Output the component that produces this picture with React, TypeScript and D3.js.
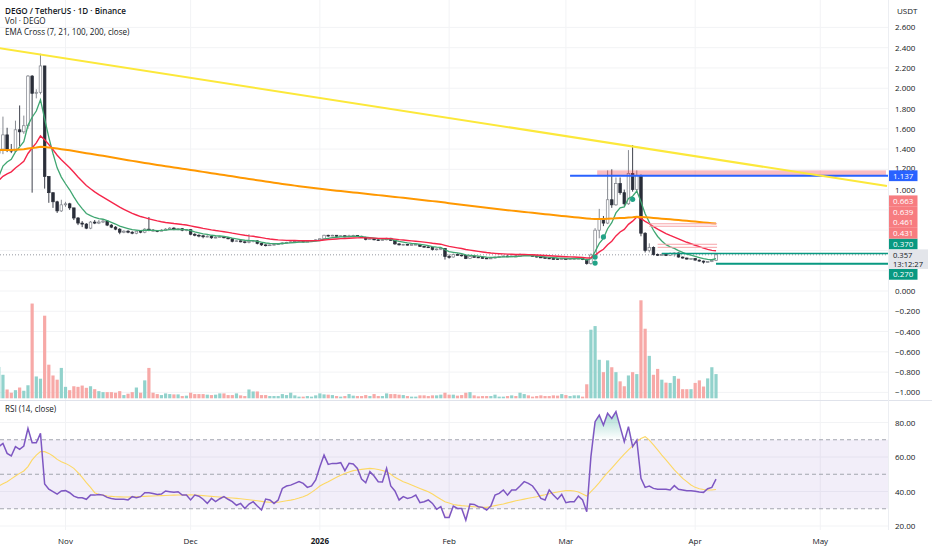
import React, { useRef, useEffect } from "react";
import * as d3 from "d3";

// daily candles, Oct 16 2025 .. Apr 6 2026 (open = previous close)
const startDay = Date.UTC(2025, 9, 16);
const firstOpen = 1.36;

const closes = [
	1.40, 1.54, 1.39, 1.38, 1.59, 1.57, 1.63, 2.12, 1.95, 1.96,
	2.22, 1.13, 0.97, 0.88, 0.79, 0.85, 0.86, 0.82, 0.72, 0.67,
	0.66, 0.62, 0.68, 0.67, 0.68, 0.69, 0.65, 0.63, 0.61, 0.58,
	0.59, 0.58, 0.57, 0.59, 0.58, 0.61, 0.60, 0.595, 0.59, 0.60,
	0.61, 0.62, 0.61, 0.615, 0.60, 0.605, 0.56, 0.55, 0.545, 0.535,
	0.54, 0.525, 0.53, 0.535, 0.525, 0.515, 0.49, 0.495, 0.485, 0.48,
	0.49, 0.495, 0.47, 0.455, 0.45, 0.455, 0.46, 0.465, 0.475, 0.48,
	0.485, 0.49, 0.492, 0.488, 0.49, 0.495, 0.505, 0.515, 0.55, 0.545,
	0.55, 0.54, 0.545, 0.535, 0.545, 0.548, 0.54, 0.53, 0.51, 0.515,
	0.505, 0.50, 0.505, 0.52, 0.50, 0.465, 0.455, 0.46, 0.455, 0.458,
	0.46, 0.44, 0.435, 0.43, 0.41, 0.415, 0.42, 0.34, 0.335, 0.36,
	0.355, 0.35, 0.32, 0.34, 0.335, 0.33, 0.325, 0.32, 0.325, 0.335,
	0.34, 0.345, 0.34, 0.345, 0.342, 0.355, 0.36, 0.35, 0.345, 0.335,
	0.33, 0.325, 0.32, 0.318, 0.315, 0.32, 0.315, 0.318, 0.32, 0.322,
	0.31, 0.27, 0.355, 0.60, 0.71, 0.67, 0.90, 0.85, 1.06, 0.97,
	0.86, 1.16, 1.00, 1.14, 0.57, 0.40, 0.43, 0.36, 0.355, 0.36,
	0.35, 0.37, 0.375, 0.335, 0.325, 0.315, 0.32, 0.305, 0.295, 0.285,
	0.29, 0.30, 0.357,
];

const highs = [
	1.46, 1.72, 1.61, 1.45, 1.68, 1.83, 1.73, 2.13, 2.13, 1.99,
	2.34, 2.22, 1.13, 0.97, 0.89, 0.90, 0.88, 0.87, 0.82, 0.73,
	0.69, 0.67, 0.69, 0.70, 0.70, 0.70, 0.70, 0.66, 0.64, 0.62,
	0.60, 0.60, 0.59, 0.60, 0.60, 0.62, 0.73, 0.61, 0.60, 0.61,
	0.62, 0.63, 0.63, 0.62, 0.62, 0.61, 0.61, 0.57, 0.56, 0.55,
	0.55, 0.545, 0.54, 0.545, 0.54, 0.53, 0.52, 0.50, 0.50, 0.49,
	0.56, 0.50, 0.50, 0.475, 0.46, 0.46, 0.465, 0.47, 0.48, 0.485,
	0.49, 0.495, 0.50, 0.495, 0.50, 0.50, 0.51, 0.52, 0.555, 0.555,
	0.555, 0.55, 0.55, 0.55, 0.555, 0.555, 0.55, 0.545, 0.535, 0.52,
	0.52, 0.51, 0.51, 0.525, 0.525, 0.505, 0.47, 0.465, 0.465, 0.462,
	0.465, 0.465, 0.445, 0.44, 0.43, 0.42, 0.425, 0.42, 0.36, 0.37,
	0.37, 0.36, 0.355, 0.35, 0.345, 0.34, 0.335, 0.33, 0.33, 0.34,
	0.345, 0.35, 0.35, 0.35, 0.35, 0.37, 0.365, 0.365, 0.355, 0.35,
	0.34, 0.335, 0.33, 0.325, 0.322, 0.325, 0.325, 0.322, 0.325, 0.328,
	0.325, 0.315, 0.37, 0.62, 0.81, 0.74, 1.19, 1.20, 1.12, 1.12,
	1.00, 1.39, 1.44, 1.19, 1.15, 0.58, 0.47, 0.44, 0.37, 0.37,
	0.365, 0.38, 0.38, 0.38, 0.34, 0.33, 0.325, 0.325, 0.31, 0.30,
	0.295, 0.305, 0.37,
];

const lows = [
	1.34, 1.35, 1.37, 1.36, 1.37, 1.43, 1.55, 1.60, 0.97, 1.90,
	1.94, 1.01, 0.87, 0.82, 0.77, 0.78, 0.83, 0.80, 0.70, 0.65,
	0.63, 0.61, 0.61, 0.66, 0.66, 0.67, 0.64, 0.62, 0.60, 0.56,
	0.57, 0.57, 0.56, 0.56, 0.57, 0.57, 0.59, 0.59, 0.58, 0.59,
	0.60, 0.61, 0.60, 0.60, 0.59, 0.59, 0.55, 0.54, 0.53, 0.52,
	0.53, 0.515, 0.52, 0.525, 0.52, 0.51, 0.48, 0.485, 0.48, 0.47,
	0.47, 0.48, 0.46, 0.445, 0.44, 0.445, 0.45, 0.455, 0.46, 0.47,
	0.475, 0.48, 0.485, 0.48, 0.485, 0.485, 0.49, 0.50, 0.51, 0.535,
	0.54, 0.53, 0.535, 0.53, 0.53, 0.54, 0.535, 0.525, 0.50, 0.505,
	0.50, 0.495, 0.495, 0.50, 0.495, 0.455, 0.45, 0.45, 0.45, 0.45,
	0.452, 0.435, 0.43, 0.425, 0.40, 0.40, 0.405, 0.31, 0.32, 0.33,
	0.35, 0.34, 0.315, 0.315, 0.33, 0.325, 0.32, 0.315, 0.315, 0.32,
	0.33, 0.335, 0.335, 0.335, 0.335, 0.34, 0.35, 0.345, 0.34, 0.33,
	0.325, 0.32, 0.315, 0.31, 0.31, 0.31, 0.31, 0.31, 0.312, 0.315,
	0.305, 0.26, 0.26, 0.34, 0.52, 0.64, 0.66, 0.82, 0.84, 0.95,
	0.84, 0.85, 0.98, 0.97, 0.54, 0.38, 0.38, 0.35, 0.345, 0.35,
	0.345, 0.345, 0.34, 0.33, 0.32, 0.31, 0.31, 0.30, 0.29, 0.27,
	0.28, 0.285, 0.295,
];

// volume, arbitrary units (max bar ~ 100)
const volumes = [
	32, 24, 9, 5.7, 8.3, 11, 7.7, 13.3, 96.7, 22.3,
	20, 84.3, 34.3, 23.3, 19, 31, 11.7, 8.3, 12.3, 11.7,
	13, 10.7, 12.3, 9.3, 7.3, 6.3, 6.3, 6.3, 5.7, 7.3,
	3.3, 4.7, 6.3, 11, 5.7, 18.3, 31, 5.7, 4.3, 3.3,
	5, 4.3, 4, 4, 2.3, 2.7, 5.7, 4.3, 4.3, 4.3,
	3.7, 3.3, 3.7, 5, 5, 3.3, 3.3, 5, 3, 2.3,
	9, 7, 7, 3.3, 3.3, 2.3, 2.3, 2.3, 4.3, 3.3,
	5.7, 3, 1.7, 1.7, 2.3, 1.7, 3, 5, 4, 3.7,
	3.3, 2.3, 1.7, 2.3, 4.3, 2.7, 2.3, 2.3, 3.3, 2.3,
	4.3, 2.3, 2.3, 5, 4.3, 4.3, 3.7, 3.3, 2.3, 1.7,
	1.7, 3, 3, 2.3, 3, 3, 3.7, 5.7, 3.7, 3.7,
	2.7, 3.3, 5.7, 6.3, 3, 2, 2.3, 2.3, 2.3, 3.7,
	1.7, 1.7, 2.3, 3, 2.3, 5.7, 4.3, 3, 1.7, 2.3,
	3, 2.3, 2.3, 3, 2.7, 4.3, 3.3, 2.3, 3, 3,
	1.7, 14.3, 70, 73.7, 39.3, 26.7, 38.7, 31.7, 26.7, 17.3,
	12.3, 23.3, 26.7, 24.7, 100, 71, 43.3, 24, 30, 19,
	16, 15.7, 22.7, 20, 9.3, 9.3, 9.3, 15.7, 18.3, 12,
	20.3, 31.7, 24.7,
];

const rsiValues = [
	66.0, 67.9, 62.1, 60.6, 66.0, 64.4, 66.4, 76.6, 68.3, 68.3,
	73.7, 44.3, 41.3, 39.9, 38.5, 40.3, 40.5, 39.3, 37.3, 36.4,
	36.4, 35.5, 37.9, 37.9, 38.3, 37.9, 36.6, 36.0, 35.5, 35.5,
	35.5, 35.1, 37.0, 36.4, 37.0, 39.3, 39.3, 38.9, 38.3, 38.5,
	40.3, 39.9, 39.5, 39.9, 37.9, 37.9, 35.1, 37.9, 37.3, 35.5,
	33.1, 36.0, 34.1, 35.8, 37.0, 35.5, 34.1, 32.0, 33.1, 30.2,
	32.7, 34.1, 31.6, 29.3, 35.6, 35.1, 33.1, 35.1, 41.8, 43.2,
	43.7, 44.7, 45.7, 44.7, 42.4, 43.2, 46.7, 54.4, 61.1, 55.7,
	56.3, 56.3, 56.7, 52.1, 56.3, 55.9, 53.4, 47.2, 45.1, 51.5,
	49.0, 45.7, 45.5, 53.4, 43.2, 40.3, 35.1, 37.0, 36.0, 36.6,
	37.9, 33.5, 34.1, 35.1, 33.1, 29.7, 31.2, 25.0, 25.0, 31.6,
	30.2, 30.2, 23.4, 32.7, 32.5, 31.2, 30.8, 29.3, 31.6, 37.9,
	38.9, 40.9, 37.9, 40.9, 40.9, 43.2, 45.7, 44.7, 43.2, 39.9,
	36.0, 35.1, 40.9, 37.9, 35.5, 38.3, 33.5, 34.1, 34.1, 37.3,
	35.1, 28.3, 60.2, 80.5, 84.3, 78.5, 85.3, 82.4, 86.3, 77.6,
	68.9, 77.6, 66.0, 69.8, 47.6, 42.4, 43.2, 41.8, 41.3, 41.3,
	41.3, 40.9, 43.4, 41.3, 40.9, 40.5, 40.5, 40.1, 39.7, 39.5,
	41.6, 42.4, 47.2,
];

const rsiMaValues = [
	43.2, 44.5, 45.7, 47.3, 49.0, 50.5, 51.9, 54.4, 58.3, 61.1,
	63.1, 63.1, 62.1, 60.6, 58.6, 57.3, 56.3, 55.0, 53.4, 50.9,
	48.2, 45.1, 42.4, 39.3, 38.3, 38.0, 37.4, 37.2, 37.0, 36.9,
	36.8, 36.8, 36.9, 37.0, 37.1, 37.2, 37.3, 37.4, 37.5, 37.6,
	37.7, 37.8, 37.9, 38.0, 38.0, 38.0, 38.1, 38.0, 37.8, 37.6,
	37.4, 37.2, 37.0, 36.8, 36.6, 36.4, 36.2, 36.0, 35.8, 35.5,
	35.2, 34.9, 34.6, 34.3, 34.0, 33.8, 33.7, 33.8, 34.2, 34.6,
	35.0, 35.5, 36.2, 37.0, 38.0, 39.5, 41.2, 43.2, 44.5, 45.7,
	47.0, 48.2, 49.4, 50.5, 51.3, 52.1, 52.5, 52.8, 53.1, 53.4,
	53.2, 52.8, 52.2, 51.5, 50.0, 48.2, 47.0, 45.7, 44.8, 43.8,
	42.8, 41.8, 40.8, 39.9, 38.5, 37.0, 35.5, 34.1, 33.3, 32.5,
	32.1, 31.8, 31.6, 31.4, 31.2, 31.0, 30.8, 30.8, 31.3, 31.8,
	32.3, 32.8, 33.4, 34.0, 34.6, 35.1, 35.6, 36.1, 36.5, 37.0,
	37.6, 38.1, 38.7, 39.3, 39.7, 40.1, 40.5, 40.5, 40.3, 39.7,
	38.6, 37.4, 39.9, 42.4, 45.1, 48.2, 50.9, 53.6, 56.3, 59.0,
	61.7, 64.1, 66.4, 68.9, 70.8, 71.8, 69.8, 67.0, 64.1, 61.1,
	58.3, 55.4, 52.5, 50.1, 47.6, 45.7, 43.8, 42.4, 41.6, 41.2,
	40.9, 40.9, 41.2,
];

// EMA Cross lines: periods, starting values at the first candle, colours
const emaPeriods = [7, 21, 200];
const emaSeeds = [1.13, 1.09, 1.39];
const emaColors = ["#3fa671", "#f5264a", "#ff9800"];
const emaWidths = [1.3, 1.4, 2];

// cross markers (candle index, price)
const crossIndex = [143, 143, 145, 152];
const crossPrice = [0.335, 0.276, 0.533, 0.904];

// drawings
const trendDates = ["2025-10-16", "2026-05-17"];
const trendPrices = [2.396, 1.036];
const zoneDates = ["2026-03-08T12:00:00Z", "2026-05-16T18:00:00Z"];
const zonePrices = [1.137, 1.19];
const blueLevel = 1.137;
const blueStart = "2026-03-02";
const pinkLevels = [0.663, 0.639, 0.461, 0.431];
const pinkStarts = ["2026-03-21", "2026-03-21", "2026-03-23", "2026-03-23"];
const pinkEnd = "2026-04-06T06:00:00Z";
const greenLevels = [0.37, 0.27];
const greenStarts = ["2026-03-24", "2026-04-06"];
const lastPrice = 0.357;
const countdown = "13:12:27";

const priceTicks = d3.range(-5, 14).map((i) => +(i * 0.2).toFixed(1));
const rsiTicks = [20, 40, 60, 80];

const W = 932;
const H = 550;
const PW = 888;
const FONT = "'Open Sans', 'Noto Sans', sans-serif";
const TXT = "#131722";
const GRID = "#f2f3f5";
const DAY = 864e5;

const App: React.FC = () => {
	const svgRef = useRef<SVGSVGElement | null>(null);

	useEffect(() => {
		if (!svgRef.current) return;
		const svg = d3.select(svgRef.current);
		svg.selectAll("*").remove();

		const dates = closes.map((_, i) => new Date(startDay + i * DAY));
		const opens = closes.map((_, i) => (i === 0 ? firstOpen : closes[i - 1]));

		const nov1 = Date.UTC(2025, 10, 1);
		const x = d3
			.scaleUtc()
			.domain([new Date(nov1 - (65.5 / 4.17) * DAY), new Date(nov1 + ((PW - 65.5) / 4.17) * DAY)])
			.range([0, PW]);
		const y = d3.scaleLinear().domain([-1, 2.6]).range([392.4, 27.4]);
		const yVol = d3.scaleLinear().domain([0, 100]).range([398.3, 300.3]);
		const yRsi = d3.scaleLinear().domain([20, 80]).range([526, 422.5]);

		svg.attr("width", W).attr("height", H);
		svg.append("rect").attr("width", W).attr("height", H).attr("fill", "#fff");

		const defs = svg.append("defs");
		defs.append("clipPath").attr("id", "clipMain").append("rect").attr("x", 0).attr("y", 0).attr("width", PW).attr("height", 400);
		defs.append("clipPath").attr("id", "clipRsi").append("rect").attr("x", 0).attr("y", 400).attr("width", PW).attr("height", 130);
		const gUp = defs.append("linearGradient").attr("id", "obFill").attr("gradientUnits", "userSpaceOnUse")
			.attr("x1", 0).attr("x2", 0).attr("y1", yRsi(90)).attr("y2", yRsi(70));
		gUp.append("stop").attr("offset", 0).attr("stop-color", "#089981").attr("stop-opacity", 0.45);
		gUp.append("stop").attr("offset", 1).attr("stop-color", "#089981").attr("stop-opacity", 0);
		const gDn = defs.append("linearGradient").attr("id", "osFill").attr("gradientUnits", "userSpaceOnUse")
			.attr("x1", 0).attr("x2", 0).attr("y1", yRsi(30)).attr("y2", yRsi(10));
		gDn.append("stop").attr("offset", 0).attr("stop-color", "#f23645").attr("stop-opacity", 0);
		gDn.append("stop").attr("offset", 1).attr("stop-color", "#f23645").attr("stop-opacity", 0.45);

		// grid
		const months = x.ticks(d3.utcMonth.every(1));
		svg.append("g").selectAll("line").data(months).enter().append("line")
			.attr("x1", (d) => x(d)).attr("x2", (d) => x(d)).attr("y1", 0).attr("y2", 530)
			.attr("stroke", GRID);
		svg.append("g").selectAll("line").data(priceTicks).enter().append("line")
			.attr("x1", 0).attr("x2", PW).attr("y1", (d) => y(d)).attr("y2", (d) => y(d))
			.attr("stroke", GRID);
		svg.append("g").selectAll("line").data(rsiTicks).enter().append("line")
			.attr("x1", 0).attr("x2", PW).attr("y1", (d) => yRsi(d)).attr("y2", (d) => yRsi(d))
			.attr("stroke", GRID);

		// ---------- main pane ----------
		const main = svg.append("g").attr("clip-path", "url(#clipMain)");

		main.selectAll("rect.vol").data(volumes).enter().append("rect")
			.attr("x", (_, i) => x(dates[i]) - 1.6).attr("width", 3.2)
			.attr("y", (d) => yVol(d)).attr("height", (d) => yVol(0) - yVol(d))
			.attr("fill", (_, i) => (closes[i] >= opens[i] ? "#92d2cc" : "#f7a9a7"));

		// current price dotted line
		main.append("line").attr("x1", 0).attr("x2", PW).attr("y1", y(lastPrice)).attr("y2", y(lastPrice))
			.attr("stroke", "#9598a1").attr("stroke-dasharray", "1,2");

		// candles
		const cg = main.append("g");
		closes.forEach((c, i) => {
			const o = opens[i];
			const up = c >= o;
			const hi = Math.max(highs[i], o, c);
			const lo = Math.min(lows[i], o, c);
			const cx = x(dates[i]);
			cg.append("line").attr("x1", cx).attr("x2", cx).attr("y1", y(hi)).attr("y2", y(lo))
				.attr("stroke", up ? "#7b7e86" : "#2a2e39").attr("stroke-width", 0.9);
			const top = y(Math.max(o, c));
			const h = Math.max(0.8, y(Math.min(o, c)) - top);
			cg.append("rect").attr("x", cx - 1.3).attr("y", top).attr("width", 2.6).attr("height", h)
				.attr("fill", up ? "#ffffff" : "#2a2e39")
				.attr("stroke", up ? "#7b7e86" : "#2a2e39").attr("stroke-width", 0.7);
		});

		// EMAs
		emaPeriods.forEach((p, k) => {
			const a = 2 / (p + 1);
			let prev = emaSeeds[k];
			const vals = closes.map((c, i) => (i === 0 ? prev : (prev = a * c + (1 - a) * prev)));
			const line = d3.line<number>().x((_, i) => x(dates[i])).y((d) => y(d));
			main.append("path").attr("d", line(vals)).attr("fill", "none")
				.attr("stroke", emaColors[k]).attr("stroke-width", emaWidths[k]);
		});

		// drawings
		main.append("rect")
			.attr("x", x(new Date(zoneDates[0]))).attr("width", x(new Date(zoneDates[1])) - x(new Date(zoneDates[0])))
			.attr("y", y(zonePrices[1])).attr("height", y(zonePrices[0]) - y(zonePrices[1]))
			.attr("fill", "rgba(242,54,69,0.33)");
		pinkLevels.forEach((p, k) => {
			main.append("line").attr("x1", x(new Date(pinkStarts[k]))).attr("x2", x(new Date(pinkEnd)))
				.attr("y1", y(p)).attr("y2", y(p)).attr("stroke", "#f7a3a8").attr("stroke-width", 1);
		});
		greenLevels.forEach((p, k) => {
			main.append("line").attr("x1", x(new Date(greenStarts[k]))).attr("x2", PW)
				.attr("y1", y(p)).attr("y2", y(p)).attr("stroke", "#089981").attr("stroke-width", k === 0 ? 1.5 : 2);
		});
		main.append("line").attr("x1", x(new Date(blueStart))).attr("x2", PW)
			.attr("y1", y(blueLevel)).attr("y2", y(blueLevel)).attr("stroke", "#2962ff").attr("stroke-width", 2);
		main.append("line")
			.attr("x1", x(new Date(trendDates[0]))).attr("y1", y(trendPrices[0]))
			.attr("x2", x(new Date(trendDates[1]))).attr("y2", y(trendPrices[1]))
			.attr("stroke", "#fce83a").attr("stroke-width", 2);

		main.selectAll("circle.cross").data(crossIndex).enter().append("circle")
			.attr("cx", (d) => x(dates[d])).attr("cy", (_, k) => y(crossPrice[k])).attr("r", 2.6)
			.attr("fill", "#22a387");

		// ---------- RSI pane ----------
		const rp = svg.append("g").attr("clip-path", "url(#clipRsi)");
		rp.append("rect").attr("x", 0).attr("width", PW).attr("y", yRsi(70)).attr("height", yRsi(30) - yRsi(70))
			.attr("fill", "rgba(126,87,194,0.1)");
		[70, 50, 30].forEach((v) => {
			rp.append("line").attr("x1", 0).attr("x2", PW).attr("y1", yRsi(v)).attr("y2", yRsi(v))
				.attr("stroke", "#a3a6af").attr("stroke-dasharray", "4,3");
		});
		const ob = d3.area<number>().x((_, i) => x(dates[i])).y0(yRsi(70)).y1((d) => yRsi(Math.max(d, 70)));
		rp.append("path").attr("d", ob(rsiValues)).attr("fill", "url(#obFill)");
		const os = d3.area<number>().x((_, i) => x(dates[i])).y0(yRsi(30)).y1((d) => yRsi(Math.min(d, 30)));
		rp.append("path").attr("d", os(rsiValues)).attr("fill", "url(#osFill)");
		const rl = d3.line<number>().x((_, i) => x(dates[i])).y((d) => yRsi(d));
		rp.append("path").attr("d", rl(rsiMaValues)).attr("fill", "none").attr("stroke", "#fdd865").attr("stroke-width", 1.1);
		rp.append("path").attr("d", rl(rsiValues)).attr("fill", "none").attr("stroke", "#7e57c2").attr("stroke-width", 1.5);

		// separators
		svg.append("line").attr("x1", 0).attr("x2", W).attr("y1", 400.5).attr("y2", 400.5).attr("stroke", "#e0e3eb");
		svg.append("line").attr("x1", PW + 0.5).attr("x2", PW + 0.5).attr("y1", 0).attr("y2", 530).attr("stroke", "#eceef2");

		// legends
		const lg = svg.append("g").attr("font-family", FONT).attr("font-size", 8.1).attr("fill", TXT);
		lg.append("text").attr("x", 5).attr("y", 13.6).attr("font-weight", 600).text("DEGO / TetherUS · 1D · Binance");
		lg.append("text").attr("x", 5).attr("y", 24.2).text("Vol · DEGO");
		lg.append("text").attr("x", 5).attr("y", 35.3).text("EMA Cross (7, 21, 100, 200, close)");
		lg.append("text").attr("x", 5).attr("y", 412).text("RSI (14, close)");

		// price labels, pushed apart around the last-price label
		const LH = 10.8;
		const anchorTop = y(lastPrice) - LH / 2;
		const anchorBottom = anchorTop + 19.5;
		type Lab = { v: number; fill: string; cy: number };
		const above: Lab[] = [
			...greenLevels.filter((v) => v > lastPrice).map((v) => ({ v, fill: "#089981", cy: y(v) })),
			...pinkLevels.map((v) => ({ v, fill: "#f77c80", cy: y(v) })),
		].sort((a, b) => b.cy - a.cy);
		let limit = anchorTop;
		above.forEach((l) => {
			l.cy = Math.min(l.cy, limit - LH / 2);
			limit = l.cy - LH / 2;
		});
		const below: Lab[] = greenLevels.filter((v) => v < lastPrice).map((v) => ({ v, fill: "#089981", cy: y(v) }));
		limit = anchorBottom;
		below.forEach((l) => {
			l.cy = Math.max(l.cy, limit + LH / 2);
			limit = l.cy + LH / 2;
		});
		const labels = [{ v: blueLevel, fill: "#2962ff", cy: y(blueLevel) }, ...above, ...below];
		// vertical spans covered by label boxes: tick labels under them stay hidden
		const covered: [number, number][] = [
			...above.concat(below).map((l) => [l.cy - LH / 2, l.cy + LH / 2] as [number, number]),
			[anchorTop, anchorBottom],
		];
		const hidden = (ty: number) => covered.some(([a, b]) => ty > a - 2 && ty < b + 2);

		// price axis
		const fmt = d3.format(".3f");
		const ax = svg.append("g").attr("font-family", FONT).attr("font-size", 8).attr("fill", TXT);
		ax.append("text").attr("x", 897).attr("y", 14).text("USDT");
		ax.selectAll("text.pt").data(priceTicks.filter((d) => !hidden(y(d)))).enter().append("text")
			.attr("x", 895).attr("y", (d) => y(d) + (d === 1.2 ? 1.8 : 3)).text((d) => fmt(d));
		ax.selectAll("text.rt").data(rsiTicks).enter().append("text")
			.attr("x", 895).attr("y", (d) => yRsi(d) + 3).text((d) => d3.format(".2f")(d));

		// time axis
		svg.append("g").selectAll("text").data(months).enter().append("text")
			.attr("x", (d) => x(d)).attr("y", 544).attr("text-anchor", "middle")
			.attr("font-family", FONT).attr("font-size", 8).attr("fill", TXT)
			.attr("font-weight", (d) => (d.getUTCMonth() === 0 ? 700 : 400))
			.text((d) => (d.getUTCMonth() === 0 ? d3.utcFormat("%Y")(d) : d3.utcFormat("%b")(d)));

		const lb = svg.append("g").attr("font-family", FONT).attr("font-size", 8);
		labels.forEach((l) => {
			lb.append("rect").attr("x", 889).attr("y", l.cy - LH / 2).attr("width", 28.5).attr("height", LH).attr("fill", l.fill);
			lb.append("text").attr("x", 893).attr("y", l.cy + 3).attr("fill", "#fff").text(fmt(l.v));
		});
		lb.append("rect").attr("x", 889).attr("y", anchorTop).attr("width", 39).attr("height", 19.5).attr("fill", "#e3e5ea");
		lb.append("text").attr("x", 893).attr("y", anchorTop + 8.3).attr("font-size", 7.6).attr("fill", TXT).text(fmt(lastPrice));
		lb.append("text").attr("x", 893).attr("y", anchorTop + 17.6).attr("font-size", 7.6).attr("fill", TXT).text(countdown);
	}, []);

	return <svg ref={svgRef} style={{ position: "absolute", left: 0, top: 0, display: "block" }} />;
};

export default App;
